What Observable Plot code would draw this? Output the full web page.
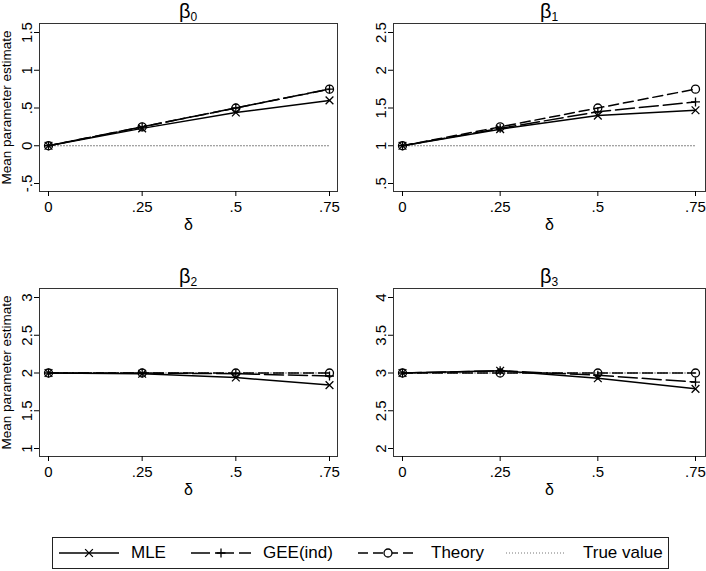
<!DOCTYPE html>
<html>
<head>
<meta charset="utf-8">
<script src="https://cdn.jsdelivr.net/npm/d3@7"></script>
<script src="https://cdn.jsdelivr.net/npm/@observablehq/plot@0.6"></script>
<style>
  html, body { margin: 0; padding: 0; background: #fff; }
  #root { position: relative; width: 706px; height: 571px; background: #fff; overflow: hidden;
          font-family: "Liberation Sans", Arial, Helvetica, sans-serif; color: #000; }
  .panel { position: absolute; }
  .title { position: absolute; text-align: center; font-size: 20px; line-height: 1; }
  .title sub { font-size: 12px; vertical-align: -3px; }
  #legend { position: absolute; left: 52px; top: 537px; width: 615px; height: 30px;
            border: 1px solid #222; background: #fff; }
  .lg-text { position: absolute; top: 5px; font-size: 17px; line-height: 20px; white-space: nowrap; }
  #root svg g[aria-label="x-axis tick label"] { font-size: 15px; }
  #root svg g[aria-label="y-axis tick label"] { font-size: 15px; }
  #root svg g[aria-label="x-axis label"] { font-size: 16px; }
  #root svg g[aria-label="y-axis label"] { font-size: 13.5px; }
</style>
</head>
<body>
<div id="root"></div>
<script>
// ---- data ----
const delta = [0, 0.25, 0.5, 0.75];
const xTicks = [0, 0.25, 0.5, 0.75];
const xTickLabels = ["0", ".25", ".5", ".75"];

const panelNames = ["0", "1", "2", "3"];   // subscripts of beta
const trueValues = [0, 1, 2, 3];

const mleB0 = [0, 0.23, 0.44, 0.60];
const geeB0 = [0, 0.25, 0.50, 0.75];
const theoryB0 = [0, 0.25, 0.50, 0.75];

const mleB1 = [1, 1.22, 1.40, 1.47];
const geeB1 = [1, 1.23, 1.45, 1.58];
const theoryB1 = [1, 1.25, 1.50, 1.75];

const mleB2 = [2, 1.99, 1.94, 1.84];
const geeB2 = [2, 2.00, 1.99, 1.96];
const theoryB2 = [2, 2, 2, 2];

const mleB3 = [3, 3.03, 2.93, 2.79];
const geeB3 = [3, 3.03, 2.97, 2.88];
const theoryB3 = [3, 3, 3, 3];

const yTicksB0 = [-0.5, 0, 0.5, 1, 1.5];
const yTicksB1 = [0.5, 1, 1.5, 2, 2.5];
const yTicksB2 = [1, 1.5, 2, 2.5, 3];
const yTicksB3 = [2, 2.5, 3, 3.5, 4];
const yTickLabelsB0 = ["-.5", "0", ".5", "1", "1.5"];
const yTickLabelsB1 = [".5", "1", "1.5", "2", "2.5"];
const yTickLabelsB2 = ["1", "1.5", "2", "2.5", "3"];
const yTickLabelsB3 = ["2", "2.5", "3", "3.5", "4"];

const seriesNames = ["MLE", "GEE(ind)", "Theory", "True value"];

// ---- styles ----
const styles = {
  "MLE": {dash: null, symbol: "times", r: 3.6, color: "#000", width: 1.5},
  "GEE(ind)": {dash: "19,5", symbol: "plus", r: 3.0, color: "#000", width: 1.5},
  "Theory": {dash: "10,5", symbol: "circle", r: 4, color: "#000", width: 1.5},
  "True value": {dash: "1,2", symbol: null, r: 0, color: "#777", width: 1}
};

const panels = [
  {sub: panelNames[0], mle: mleB0, gee: geeB0, th: theoryB0, tv: trueValues[0], ticks: yTicksB0, labels: yTickLabelsB0,
   left: 0, top: 0, w: 353, mL: 39, mR: 16, inR: 8, ylabel: true},
  {sub: panelNames[1], mle: mleB1, gee: geeB1, th: theoryB1, tv: trueValues[1], ticks: yTicksB1, labels: yTickLabelsB1,
   left: 353, top: 0, w: 353, mL: 40, mR: 1, inR: 10, ylabel: false},
  {sub: panelNames[2], mle: mleB2, gee: geeB2, th: theoryB2, tv: trueValues[2], ticks: yTicksB2, labels: yTickLabelsB2,
   left: 0, top: 265, w: 353, mL: 39, mR: 16, inR: 8, ylabel: true},
  {sub: panelNames[3], mle: mleB3, gee: geeB3, th: theoryB3, tv: trueValues[3], ticks: yTicksB3, labels: yTickLabelsB3,
   left: 353, top: 265, w: 353, mL: 40, mR: 1, inR: 10, ylabel: false}
];

const root = document.getElementById("root");
const font = "'Liberation Sans', Arial, Helvetica, sans-serif";

for (const p of panels) {
  const rows = [];
  delta.forEach((d, i) => {
    rows.push({delta: d, value: p.mle[i], series: "MLE"});
    rows.push({delta: d, value: p.gee[i], series: "GEE(ind)"});
    rows.push({delta: d, value: p.th[i], series: "Theory"});
    rows.push({delta: d, value: p.tv, series: "True value"});
  });
  const lineMarks = [];
  const dotMarks = [];
  for (const s of ["True value", "Theory", "GEE(ind)", "MLE"]) {
    const st = styles[s];
    const data = rows.filter(r => r.series === s);
    lineMarks.push(Plot.line(data, {x: "delta", y: "value", stroke: st.color, strokeWidth: st.width,
      strokeDasharray: st.dash || undefined}));
    if (st.symbol) {
      dotMarks.push(Plot.dot(data, {x: "delta", y: "value", symbol: st.symbol, r: st.r,
        stroke: st.color, strokeWidth: 1.3, fill: "none"}));
    }
  }
  const chart = Plot.plot({
    width: p.w, height: 240,
    marginLeft: p.mL, marginRight: p.mR, marginTop: 23, marginBottom: 49,
    x: {domain: [0, 0.75], insetLeft: 9, insetRight: p.inR},
    y: {domain: [p.ticks[0], p.ticks[p.ticks.length - 1]], insetTop: 9, insetBottom: 8},
    style: {fontFamily: font, fontSize: "14px", color: "#000", background: "#fff", overflow: "visible"},
    marks: [
      Plot.frame({stroke: "#333", strokeWidth: 1}),
      Plot.axisX({ticks: xTicks, tickFormat: d => xTickLabels[xTicks.indexOf(d)], tickSize: 5, tickPadding: 5,
        label: "δ", labelAnchor: "center", labelArrow: "none", labelOffset: 38}),
      Plot.axisY({ticks: p.ticks, tickFormat: d => p.labels[p.ticks.indexOf(d)], tickSize: 5, tickPadding: 3,
        tickRotate: -90,
        label: p.ylabel ? "Mean parameter estimate" : null, labelAnchor: "center", labelArrow: "none", labelOffset: 38}),
      ...lineMarks,
      ...dotMarks
    ]
  });
  const wrap = document.createElement("div");
  wrap.className = "panel";
  wrap.style.left = p.left + "px";
  wrap.style.top = p.top + "px";
  wrap.appendChild(chart);
  root.appendChild(wrap);

  const t = document.createElement("div");
  t.className = "title";
  t.style.left = (p.left + p.mL) + "px";
  t.style.width = (p.w - p.mL - p.mR) + "px";
  t.style.top = (p.top + 1) + "px";
  t.innerHTML = "β<sub>" + p.sub + "</sub>";
  root.appendChild(t);
}

// ---- legend ----
const legend = document.createElement("div");
legend.id = "legend";
root.appendChild(legend);
const legendPos = [
  {sample: 6, text: 78},
  {sample: 138, text: 210},
  {sample: 305, text: 378},
  {sample: 453, text: 530}
];
seriesNames.forEach((s, i) => {
  const st = styles[s];
  const pos = legendPos[i];
  const svg = d3.create("svg").attr("width", 62).attr("height", 30)
    .style("position", "absolute").style("left", pos.sample + "px").style("top", "0px");
  svg.append("line").attr("x1", 0).attr("x2", 60).attr("y1", 15).attr("y2", 15)
    .attr("stroke", st.color).attr("stroke-width", st.width)
    .attr("stroke-dasharray", st.dash || null);
  if (st.symbol) {
    const symType = {times: d3.symbolTimes, plus: d3.symbolPlus, circle: d3.symbolCircle}[st.symbol];
    svg.append("path").attr("transform", "translate(30,15)")
      .attr("d", d3.symbol(symType, Math.PI * st.r * st.r)())
      .attr("fill", st.symbol === "circle" ? "#fff" : "none").attr("stroke", st.color).attr("stroke-width", 1.3);
  }
  legend.appendChild(svg.node());
  const tx = document.createElement("div");
  tx.className = "lg-text";
  tx.style.left = pos.text + "px";
  tx.textContent = s;
  legend.appendChild(tx);
});
</script>
</body>
</html>
